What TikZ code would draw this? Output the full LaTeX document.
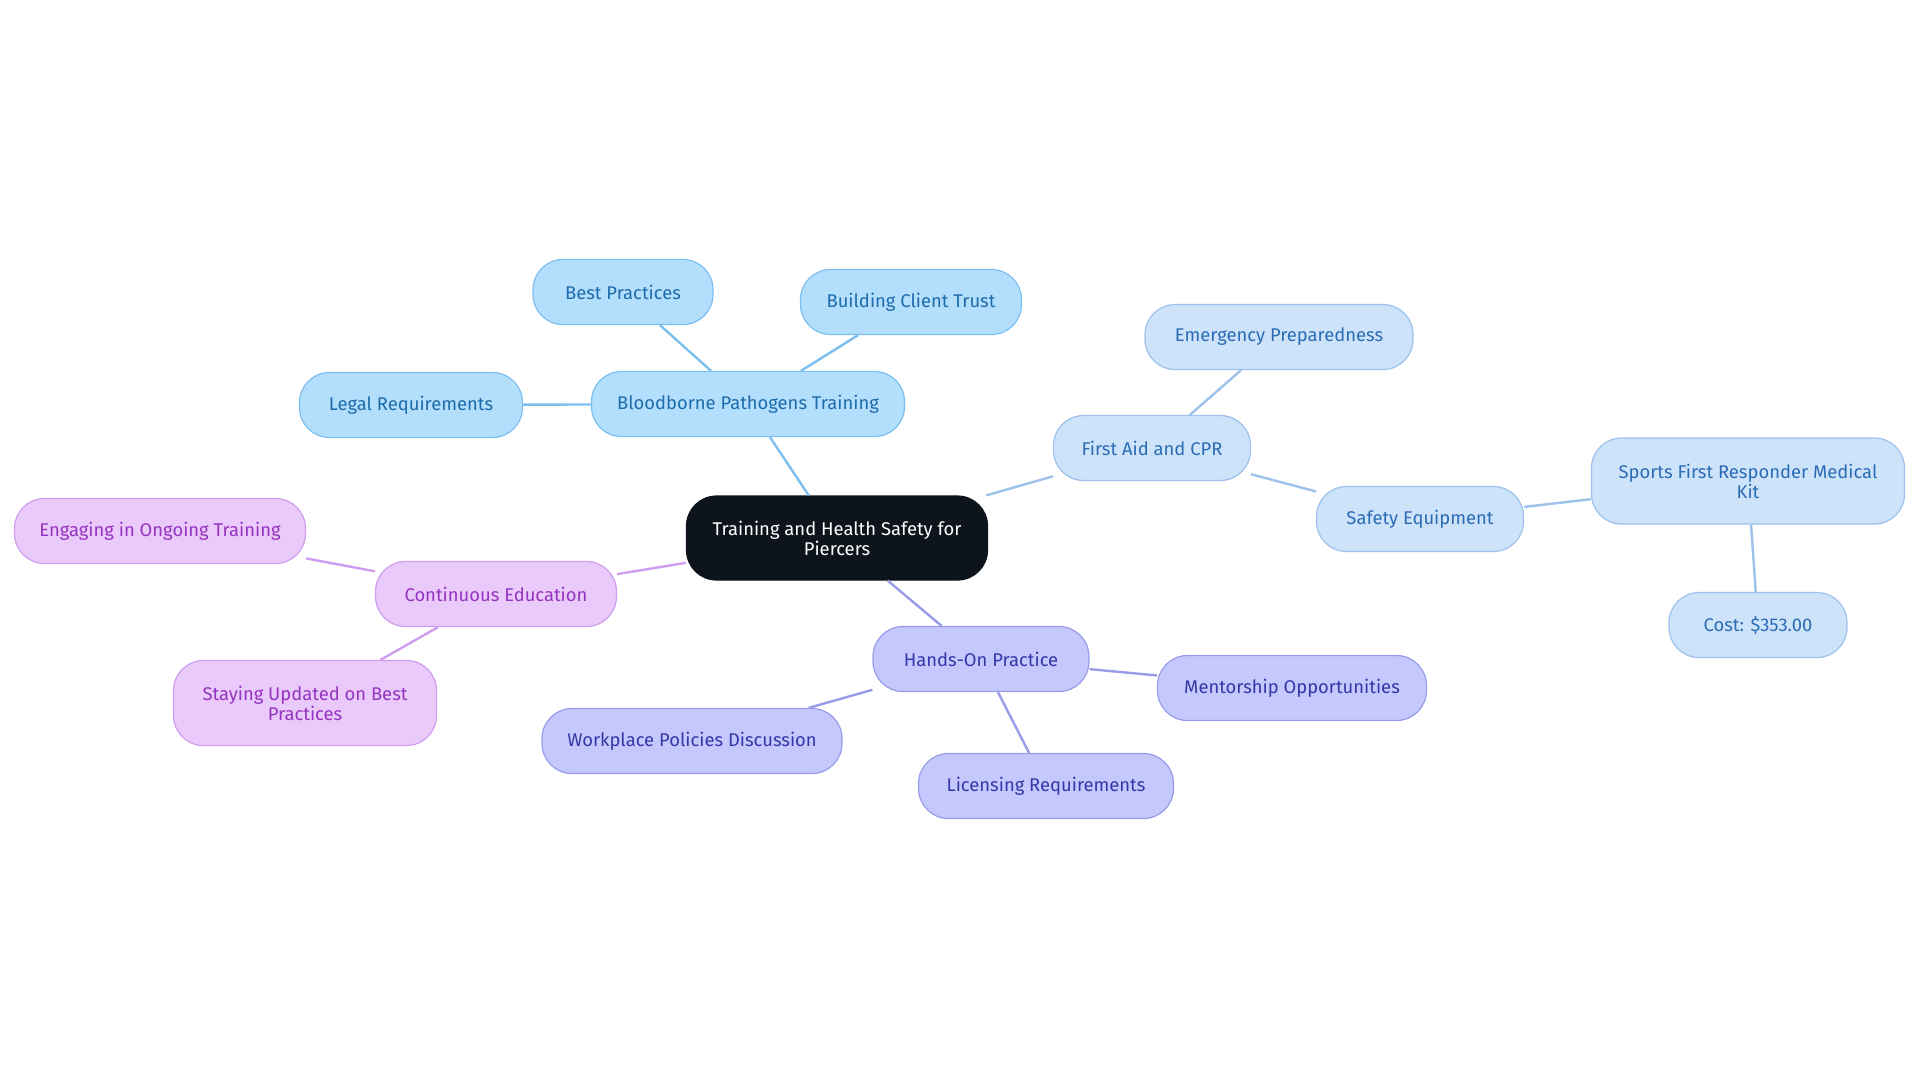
\documentclass[tikz,border=0pt]{standalone}
\usepackage{fontspec}
\setmainfont{Fira Sans}
\usepackage{xcolor}
\definecolor{rootfill}{HTML}{0D141C}
\definecolor{bptfill}{HTML}{B3DEFC}
\definecolor{bptline}{HTML}{7CBFEF}
\definecolor{bpttext}{HTML}{1D6CAB}
\definecolor{aidfill}{HTML}{CDE3FA}
\definecolor{aidline}{HTML}{9DC2EC}
\definecolor{aidtext}{HTML}{2B6CB5}
\definecolor{handfill}{HTML}{C5C8FC}
\definecolor{handline}{HTML}{989CE8}
\definecolor{handtext}{HTML}{3537A8}
\definecolor{edufill}{HTML}{EAC9FB}
\definecolor{eduline}{HTML}{CF9DF0}
\definecolor{edutext}{HTML}{9434C0}
\tikzset{
  x=0.5pt, y=-0.5pt,
}
\tikzstyle{every node}=[font=\fontsize{9.2}{10}\selectfont]
\tikzstyle{topic}=[rounded corners=15pt,minimum height=32.5pt,align=center,line width=0.6pt,inner sep=0pt]
\tikzstyle{root}=[topic,fill=rootfill,draw=rootfill,text=white]
\tikzstyle{bpt}=[topic,fill=bptfill,draw=bptline,text=bpttext]
\tikzstyle{aid}=[topic,fill=aidfill,draw=aidline,text=aidtext]
\tikzstyle{hand}=[topic,fill=handfill,draw=handline,text=handtext]
\tikzstyle{edu}=[topic,fill=edufill,draw=eduline,text=edutext]
\tikzstyle{link}=[line width=1.2pt]

\begin{document}
\begin{tikzpicture}
    \useasboundingbox (0,0) rectangle (1920,1083);
    \node[root,minimum width=150.5pt,minimum height=42pt] (root) at (837,538) {Training and Health Safety for\\Piercers};
    \node[bpt,minimum width=156.5pt] (bpt) at (748,404) {Bloodborne Pathogens Training};
    \node[bpt,minimum width=90pt] (bestp) at (623,292) {Best Practices};
    \node[bpt,minimum width=110.5pt] (trust) at (911,302) {Building Client Trust};
    \node[bpt,minimum width=111.5pt] (legal) at (411,405) {Legal Requirements};
    \node[aid,minimum width=98.5pt] (aid) at (1152,448) {First Aid and CPR};
    \node[aid,minimum width=134pt] (emerg) at (1279,337) {Emergency Preparedness};
    \node[aid,minimum width=103.5pt] (safety) at (1420,519) {Safety Equipment};
    \node[aid,minimum width=156.5pt,minimum height=43pt] (kit) at (1748,481) {Sports First Responder Medical\\Kit};
    \node[aid,minimum width=89pt] (cost) at (1758,625) {Cost: \$353.00};
    \node[edu,minimum width=120.5pt] (edu) at (496,594) {Continuous Education};
    \node[edu,minimum width=145.5pt] (engage) at (160,531) {Engaging in Ongoing Training};
    \node[edu,minimum width=131.5pt,minimum height=42.5pt] (stay) at (305,703) {Staying Updated on Best\\Practices};
    \node[hand,minimum width=108pt] (hands) at (981,659) {Hands-On Practice};
    \node[hand,minimum width=134.5pt] (mentor) at (1292,688) {Mentorship Opportunities};
    \node[hand,minimum width=127.5pt] (license) at (1046,786) {Licensing Requirements};
    \node[hand,minimum width=150pt] (policy) at (692,741) {Workplace Policies Discussion};
    \draw[link,bptline] (root)--(bpt);
    \draw[link,bptline] (bpt)--(bestp);
    \draw[link,bptline] (bpt)--(trust);
    \draw[link,bptline] (bpt)--(legal);
    \draw[link,aidline] (root)--(aid);
    \draw[link,aidline] (aid)--(emerg);
    \draw[link,aidline] (aid)--(safety);
    \draw[link,aidline] (safety)--(kit);
    \draw[link,aidline] (kit)--(cost);
    \draw[link,eduline] (root)--(edu);
    \draw[link,eduline] (edu)--(engage);
    \draw[link,eduline] (edu)--(stay);
    \draw[link,handline] (root)--(hands);
    \draw[link,handline] (hands)--(mentor);
    \draw[link,handline] (hands)--(license);
    \draw[link,handline] (hands)--(policy);
  \end{tikzpicture}
\end{document}
